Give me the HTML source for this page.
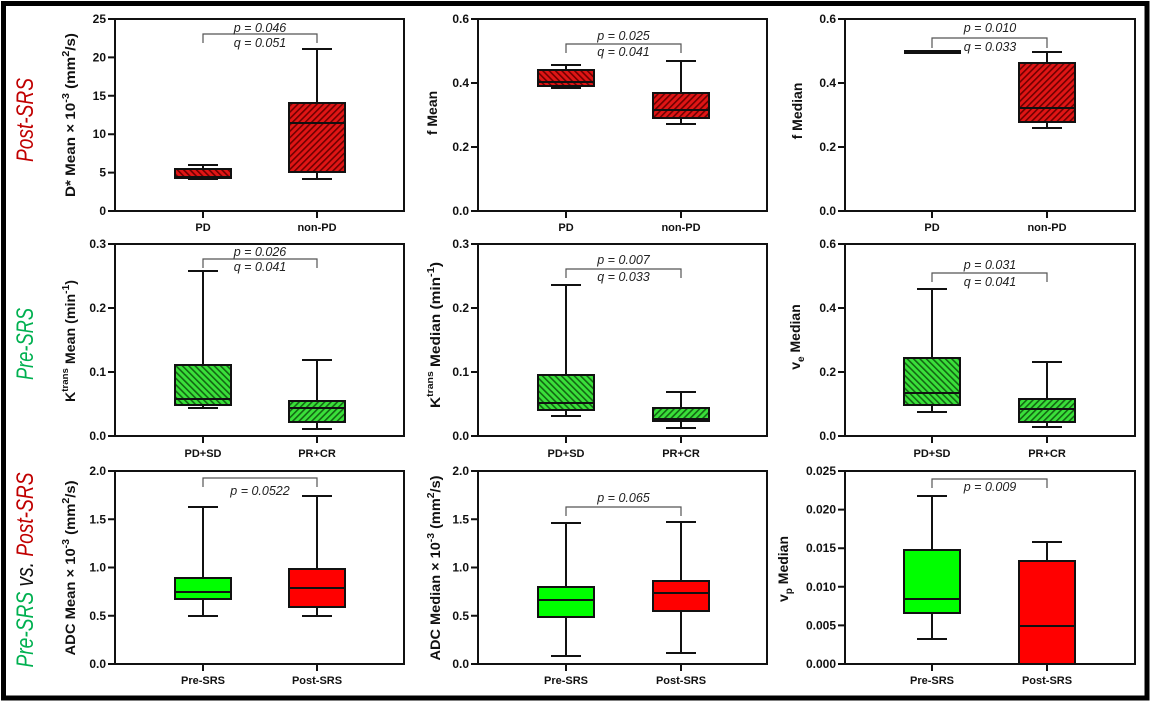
<!DOCTYPE html>
<html>
<head>
<meta charset="utf-8">
<style>
html,body{margin:0;padding:0;background:#fff;}
svg{display:block;}
.tk{font-family:"Liberation Sans",Arial,sans-serif;font-weight:bold;font-size:12px;fill:#111;}
.cat{font-family:"Liberation Sans",Arial,sans-serif;font-weight:bold;font-size:11px;fill:#111;}
.ttl{font-family:"Liberation Sans",Arial,sans-serif;font-weight:bold;font-size:14px;fill:#111;}
.pq{font-family:"Liberation Sans",Arial,sans-serif;font-style:italic;font-size:12.5px;fill:#222;}
.row{font-family:"Liberation Sans",Arial,sans-serif;font-style:italic;font-size:24px;}
.ax{fill:none;stroke:#111;stroke-width:2;}
.ln{stroke:#111;stroke-width:2;fill:none;}
.bx{stroke:#111;stroke-width:2;}
.br{fill:none;stroke:#555;stroke-width:1.2;}
</style>
</head>
<body>
<svg width="1153" height="704" viewBox="0 0 1153 704" xmlns="http://www.w3.org/2000/svg">
<defs>
<pattern id="hr1" patternUnits="userSpaceOnUse" width="4.5" height="4.5" patternTransform="rotate(-45)"><rect width="4.5" height="4.5" fill="#e01515"/><rect width="1.6" height="4.5" fill="#6e0000"/></pattern>
<pattern id="hr2" patternUnits="userSpaceOnUse" width="4.5" height="4.5" patternTransform="rotate(45)"><rect width="4.5" height="4.5" fill="#e01515"/><rect width="1.6" height="4.5" fill="#6e0000"/></pattern>
<pattern id="hg1" patternUnits="userSpaceOnUse" width="4.5" height="4.5" patternTransform="rotate(-45)"><rect width="4.5" height="4.5" fill="#3ae03a"/><rect width="1.6" height="4.5" fill="#136613"/></pattern>
<pattern id="hg2" patternUnits="userSpaceOnUse" width="4.5" height="4.5" patternTransform="rotate(45)"><rect width="4.5" height="4.5" fill="#3ae03a"/><rect width="1.6" height="4.5" fill="#136613"/></pattern>
</defs>
<rect width="1153" height="704" fill="#fff"/>
<rect x="3.5" y="3.5" width="1143.5" height="694.5" fill="none" stroke="#000" stroke-width="5"/>

<!-- Row labels -->
<text class="row" transform="translate(33,120) rotate(-90)" text-anchor="middle" fill="#C00000" textLength="84" lengthAdjust="spacingAndGlyphs">Post-SRS</text>
<text class="row" transform="translate(33,344) rotate(-90)" text-anchor="middle" fill="#00B050" textLength="72" lengthAdjust="spacingAndGlyphs">Pre-SRS</text>
<text class="row" transform="translate(33,570) rotate(-90)" text-anchor="middle" textLength="195" lengthAdjust="spacingAndGlyphs"><tspan fill="#00B050">Pre-SRS</tspan><tspan fill="#111"> vs. </tspan><tspan fill="#C00000">Post-SRS</tspan></text>

<!-- ================= PANEL 1 ================= -->
<rect class="ax" x="115" y="19" width="289" height="192"/>
<path class="ln" d="M108,19H115M108,57.4H115M108,95.8H115M108,134.2H115M108,172.6H115M108,211H115M203,211V218M317,211V218"/>
<text class="tk" x="106" y="23" text-anchor="end">25</text>
<text class="tk" x="106" y="61.4" text-anchor="end">20</text>
<text class="tk" x="106" y="99.8" text-anchor="end">15</text>
<text class="tk" x="106" y="138.2" text-anchor="end">10</text>
<text class="tk" x="106" y="176.6" text-anchor="end">5</text>
<text class="tk" x="106" y="215" text-anchor="end">0</text>
<text class="cat" x="203" y="231" text-anchor="middle">PD</text>
<text class="cat" x="317" y="231" text-anchor="middle">non-PD</text>
<text class="ttl" transform="translate(75,115) rotate(-90)" text-anchor="middle" textLength="164" lengthAdjust="spacingAndGlyphs">D* Mean × 10<tspan dy="-6" font-size="10">-3</tspan><tspan dy="6"> (mm</tspan><tspan dy="-6" font-size="10">2</tspan><tspan dy="6">/s)</tspan></text>
<!-- PD -->
<path class="ln" d="M203,165V179M188,165H218M188,179H218"/>
<rect class="bx" x="175" y="169" width="56" height="9" fill="url(#hr1)"/>
<path class="ln" d="M175,177H231"/>
<!-- non-PD -->
<path class="ln" d="M317,49V179M302,49H332M302,179H332"/>
<rect class="bx" x="289" y="103" width="56" height="69" fill="url(#hr2)"/>
<path class="ln" d="M289,123H345"/>
<path class="br" d="M203,43V34H317V43"/>
<text class="pq" x="260" y="32" text-anchor="middle">p = 0.046</text>
<text class="pq" x="260" y="47" text-anchor="middle">q = 0.051</text>

<!-- ================= PANEL 2 ================= -->
<rect class="ax" x="478" y="19" width="289" height="192"/>
<path class="ln" d="M471,19H478M471,83H478M471,147H478M471,211H478M566,211V218M681,211V218"/>
<text class="tk" x="469" y="23" text-anchor="end">0.6</text>
<text class="tk" x="469" y="87" text-anchor="end">0.4</text>
<text class="tk" x="469" y="151" text-anchor="end">0.2</text>
<text class="tk" x="469" y="215" text-anchor="end">0.0</text>
<text class="cat" x="566" y="231" text-anchor="middle">PD</text>
<text class="cat" x="681" y="231" text-anchor="middle">non-PD</text>
<text class="ttl" transform="translate(437,113) rotate(-90)" text-anchor="middle">f Mean</text>
<path class="ln" d="M566,65V88M551,65H581M551,88H581"/>
<rect class="bx" x="538" y="70" width="56" height="16" fill="url(#hr1)"/>
<path class="ln" d="M538,82H594"/>
<path class="ln" d="M681,61V124M666,61H696M666,124H696"/>
<rect class="bx" x="653" y="93" width="56" height="25" fill="url(#hr2)"/>
<path class="ln" d="M653,110H709"/>
<path class="br" d="M566,53V44H681V53"/>
<text class="pq" x="623.5" y="40" text-anchor="middle">p = 0.025</text>
<text class="pq" x="623.5" y="56" text-anchor="middle">q = 0.041</text>

<!-- ================= PANEL 3 ================= -->
<rect class="ax" x="845" y="19" width="290" height="192"/>
<path class="ln" d="M838,19H845M838,83H845M838,147H845M838,211H845M932,211V218M1047,211V218"/>
<text class="tk" x="836" y="23" text-anchor="end">0.6</text>
<text class="tk" x="836" y="87" text-anchor="end">0.4</text>
<text class="tk" x="836" y="151" text-anchor="end">0.2</text>
<text class="tk" x="836" y="215" text-anchor="end">0.0</text>
<text class="cat" x="932" y="231" text-anchor="middle">PD</text>
<text class="cat" x="1047" y="231" text-anchor="middle">non-PD</text>
<text class="ttl" transform="translate(802,111) rotate(-90)" text-anchor="middle">f Median</text>
<path d="M904,52H961" stroke="#111" stroke-width="4"/>
<path class="ln" d="M1047,52V128M1032,52H1062M1032,128H1062"/>
<rect class="bx" x="1019" y="63" width="56" height="59" fill="url(#hr2)"/>
<path class="ln" d="M1019,108H1075"/>
<path class="br" d="M932,48V38H1047V48"/>
<text class="pq" x="990" y="32" text-anchor="middle">p = 0.010</text>
<text class="pq" x="990" y="51" text-anchor="middle">q = 0.033</text>

<!-- ================= PANEL 4 ================= -->
<rect class="ax" x="115" y="244" width="289" height="192"/>
<path class="ln" d="M108,244H115M108,308H115M108,372H115M108,436H115M203,436V443M317,436V443"/>
<text class="tk" x="106" y="248" text-anchor="end">0.3</text>
<text class="tk" x="106" y="312" text-anchor="end">0.2</text>
<text class="tk" x="106" y="376" text-anchor="end">0.1</text>
<text class="tk" x="106" y="440" text-anchor="end">0.0</text>
<text class="cat" x="203" y="457" text-anchor="middle">PD+SD</text>
<text class="cat" x="317" y="457" text-anchor="middle">PR+CR</text>
<text class="ttl" transform="translate(75,341) rotate(-90)" text-anchor="middle" textLength="122" lengthAdjust="spacingAndGlyphs">K<tspan dy="-7" font-size="9.5">trans</tspan><tspan dy="7"> Mean (min</tspan><tspan dy="-6" font-size="10">-1</tspan><tspan dy="6">)</tspan></text>
<path class="ln" d="M203,271V408M188,271H218M188,408H218"/>
<rect class="bx" x="175" y="365" width="56" height="40" fill="url(#hg1)"/>
<path class="ln" d="M175,399H231"/>
<path class="ln" d="M317,360V429M302,360H332M302,429H332"/>
<rect class="bx" x="289" y="401" width="56" height="21" fill="url(#hg2)"/>
<path class="ln" d="M289,408H345"/>
<path class="br" d="M203,268V259H317V268"/>
<text class="pq" x="260" y="256" text-anchor="middle">p = 0.026</text>
<text class="pq" x="260" y="271" text-anchor="middle">q = 0.041</text>

<!-- ================= PANEL 5 ================= -->
<rect class="ax" x="478" y="244" width="289" height="192"/>
<path class="ln" d="M471,244H478M471,308H478M471,372H478M471,436H478M566,436V443M681,436V443"/>
<text class="tk" x="469" y="248" text-anchor="end">0.3</text>
<text class="tk" x="469" y="312" text-anchor="end">0.2</text>
<text class="tk" x="469" y="376" text-anchor="end">0.1</text>
<text class="tk" x="469" y="440" text-anchor="end">0.0</text>
<text class="cat" x="566" y="457" text-anchor="middle">PD+SD</text>
<text class="cat" x="681" y="457" text-anchor="middle">PR+CR</text>
<text class="ttl" transform="translate(440,335) rotate(-90)" text-anchor="middle" textLength="146" lengthAdjust="spacingAndGlyphs">K<tspan dy="-7" font-size="9.5">trans</tspan><tspan dy="7"> Median (min</tspan><tspan dy="-6" font-size="10">-1</tspan><tspan dy="6">)</tspan></text>
<path class="ln" d="M566,285V416M551,285H581M551,416H581"/>
<rect class="bx" x="538" y="375" width="56" height="35" fill="url(#hg1)"/>
<path class="ln" d="M538,403H594"/>
<path class="ln" d="M681,392V428M666,392H696M666,428H696"/>
<rect class="bx" x="653" y="408" width="56" height="13" fill="url(#hg2)"/>
<path class="ln" d="M653,419H709"/>
<path class="br" d="M566,278V269H681V278"/>
<text class="pq" x="623.5" y="264" text-anchor="middle">p = 0.007</text>
<text class="pq" x="623.5" y="281" text-anchor="middle">q = 0.033</text>

<!-- ================= PANEL 6 ================= -->
<rect class="ax" x="845" y="244" width="290" height="192"/>
<path class="ln" d="M838,244H845M838,308H845M838,372H845M838,436H845M932,436V443M1047,436V443"/>
<text class="tk" x="836" y="248" text-anchor="end">0.6</text>
<text class="tk" x="836" y="312" text-anchor="end">0.4</text>
<text class="tk" x="836" y="376" text-anchor="end">0.2</text>
<text class="tk" x="836" y="440" text-anchor="end">0.0</text>
<text class="cat" x="932" y="457" text-anchor="middle">PD+SD</text>
<text class="cat" x="1047" y="457" text-anchor="middle">PR+CR</text>
<text class="ttl" transform="translate(800,337) rotate(-90)" text-anchor="middle">v<tspan dy="4" font-size="10">e</tspan><tspan dy="-4"> Median</tspan></text>
<path class="ln" d="M932,289V412M917,289H947M917,412H947"/>
<rect class="bx" x="904" y="358" width="56" height="47" fill="url(#hg1)"/>
<path class="ln" d="M904,393H960"/>
<path class="ln" d="M1047,362V427M1032,362H1062M1032,427H1062"/>
<rect class="bx" x="1019" y="399" width="56" height="23" fill="url(#hg2)"/>
<path class="ln" d="M1019,409H1075"/>
<path class="br" d="M932,282V273H1047V282"/>
<text class="pq" x="990" y="269" text-anchor="middle">p = 0.031</text>
<text class="pq" x="990" y="286" text-anchor="middle">q = 0.041</text>

<!-- ================= PANEL 7 ================= -->
<rect class="ax" x="115" y="471" width="289" height="193"/>
<path class="ln" d="M108,471H115M108,519.25H115M108,567.5H115M108,615.75H115M108,664H115M203,664V671M317,664V671"/>
<text class="tk" x="106" y="475" text-anchor="end">2.0</text>
<text class="tk" x="106" y="523.25" text-anchor="end">1.5</text>
<text class="tk" x="106" y="571.5" text-anchor="end">1.0</text>
<text class="tk" x="106" y="619.75" text-anchor="end">0.5</text>
<text class="tk" x="106" y="668" text-anchor="end">0.0</text>
<text class="cat" x="203" y="684" text-anchor="middle">Pre-SRS</text>
<text class="cat" x="317" y="684" text-anchor="middle">Post-SRS</text>
<text class="ttl" transform="translate(75,568) rotate(-90)" text-anchor="middle" textLength="175" lengthAdjust="spacingAndGlyphs">ADC Mean × 10<tspan dy="-6" font-size="10">-3</tspan><tspan dy="6"> (mm</tspan><tspan dy="-6" font-size="10">2</tspan><tspan dy="6">/s)</tspan></text>
<path class="ln" d="M203,507V616M188,507H218M188,616H218"/>
<rect class="bx" x="175" y="578" width="56" height="21" fill="#00ff00"/>
<path class="ln" d="M175,592H231"/>
<path class="ln" d="M317,496V616M302,496H332M302,616H332"/>
<rect class="bx" x="289" y="569" width="56" height="38" fill="#ff0000"/>
<path class="ln" d="M289,588H345"/>
<path class="br" d="M203,487V478H317V487"/>
<text class="pq" x="260" y="495" text-anchor="middle">p = 0.0522</text>

<!-- ================= PANEL 8 ================= -->
<rect class="ax" x="478" y="471" width="289" height="193"/>
<path class="ln" d="M471,471H478M471,519.25H478M471,567.5H478M471,615.75H478M471,664H478M566,664V671M681,664V671"/>
<text class="tk" x="469" y="475" text-anchor="end">2.0</text>
<text class="tk" x="469" y="523.25" text-anchor="end">1.5</text>
<text class="tk" x="469" y="571.5" text-anchor="end">1.0</text>
<text class="tk" x="469" y="619.75" text-anchor="end">0.5</text>
<text class="tk" x="469" y="668" text-anchor="end">0.0</text>
<text class="cat" x="566" y="684" text-anchor="middle">Pre-SRS</text>
<text class="cat" x="681" y="684" text-anchor="middle">Post-SRS</text>
<text class="ttl" transform="translate(440,568) rotate(-90)" text-anchor="middle" textLength="185" lengthAdjust="spacingAndGlyphs">ADC Median × 10<tspan dy="-6" font-size="10">-3</tspan><tspan dy="6"> (mm</tspan><tspan dy="-6" font-size="10">2</tspan><tspan dy="6">/s)</tspan></text>
<path class="ln" d="M566,523V656M551,523H581M551,656H581"/>
<rect class="bx" x="538" y="587" width="56" height="30" fill="#00ff00"/>
<path class="ln" d="M538,600H594"/>
<path class="ln" d="M681,522V653M666,522H696M666,653H696"/>
<rect class="bx" x="653" y="581" width="56" height="30" fill="#ff0000"/>
<path class="ln" d="M653,593H709"/>
<path class="br" d="M566,516V507H681V516"/>
<text class="pq" x="623.5" y="502" text-anchor="middle">p = 0.065</text>

<!-- ================= PANEL 9 ================= -->
<rect class="ax" x="845" y="471" width="290" height="193"/>
<path class="ln" d="M838,471H845M838,509.6H845M838,548.2H845M838,586.8H845M838,625.4H845M838,664H845M932,664V671M1047,664V671"/>
<text class="tk" x="836" y="475" text-anchor="end">0.025</text>
<text class="tk" x="836" y="513.6" text-anchor="end">0.020</text>
<text class="tk" x="836" y="552.2" text-anchor="end">0.015</text>
<text class="tk" x="836" y="590.8" text-anchor="end">0.010</text>
<text class="tk" x="836" y="629.4" text-anchor="end">0.005</text>
<text class="tk" x="836" y="668" text-anchor="end">0.000</text>
<text class="cat" x="932" y="684" text-anchor="middle">Pre-SRS</text>
<text class="cat" x="1047" y="684" text-anchor="middle">Post-SRS</text>
<text class="ttl" transform="translate(788,569) rotate(-90)" text-anchor="middle">v<tspan dy="4" font-size="10">p</tspan><tspan dy="-4"> Median</tspan></text>
<path class="ln" d="M932,496V639M917,496H947M917,639H947"/>
<rect class="bx" x="904" y="550" width="56" height="63" fill="#00ff00"/>
<path class="ln" d="M904,599H960"/>
<path class="ln" d="M1047,542V561M1032,542H1062"/>
<rect class="bx" x="1019" y="561" width="56" height="103" fill="#ff0000"/>
<path class="ln" d="M1019,626H1075"/>
<path class="br" d="M932,488V479H1047V488"/>
<text class="pq" x="990" y="491" text-anchor="middle">p = 0.009</text>
</svg>
</body>
</html>
